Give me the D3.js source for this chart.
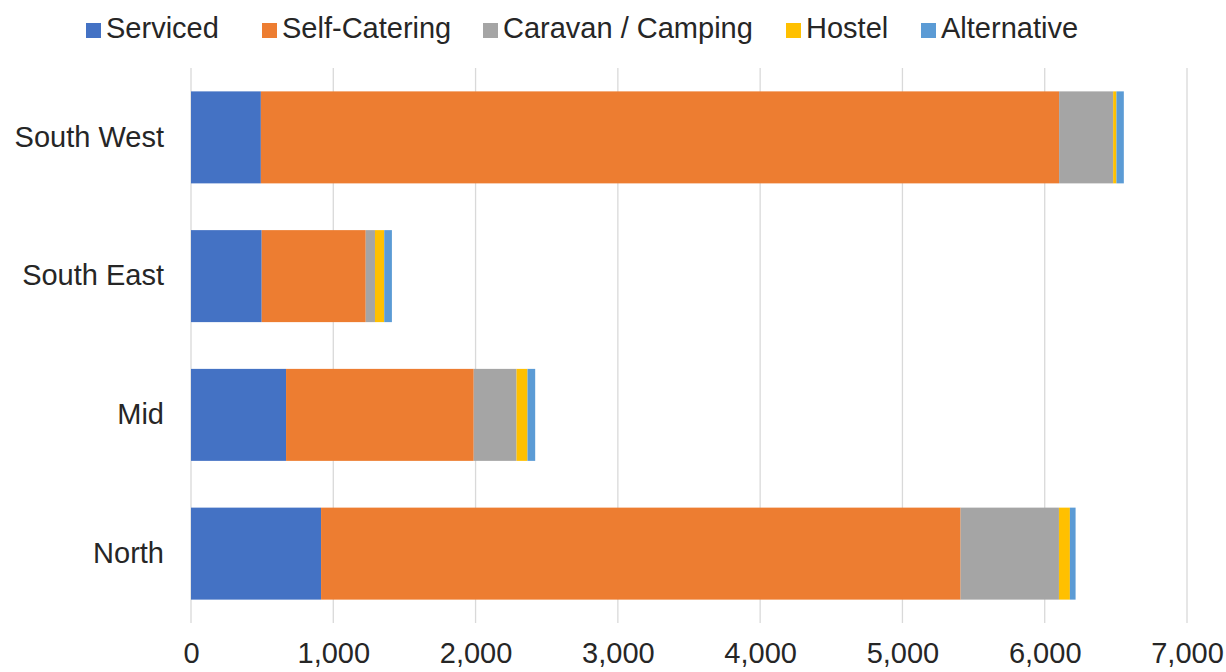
<!DOCTYPE html>
<html>
<head>
<meta charset="utf-8">
<script src="https://cdn.jsdelivr.net/npm/d3@7"></script>
<style>
  body { margin: 0; background: #fff; }
  text { font-family: "Liberation Sans", Arial, sans-serif; fill: #262626; }
</style>
</head>
<body>
<div id="chart"></div>
<script>
const regions = ["South West", "South East", "Mid", "North"];
const seriesNames = ["Serviced", "Self-Catering", "Caravan / Camping", "Hostel", "Alternative"];
const serviced = [491, 497, 668, 914];
const selfCatering = [5610, 731, 1319, 4495];
const caravan = [380, 65, 301, 691];
const hostel = [23, 65, 77, 77];
const alternative = [52, 54, 54, 40];
const xTicks = [0, 1000, 2000, 3000, 4000, 5000, 6000, 7000];
const colors = ["#4472C4", "#ED7D31", "#A5A5A5", "#FFC000", "#5B9BD5"];

const W = 1226, H = 672;
const margin = {top: 68, right: 39, bottom: 49, left: 191},
    width = W - margin.left - margin.right,
    height = H - margin.top - margin.bottom;

const rows = regions.map((r, i) => ({
  region: r,
  "Serviced": serviced[i],
  "Self-Catering": selfCatering[i],
  "Caravan / Camping": caravan[i],
  "Hostel": hostel[i],
  "Alternative": alternative[i]
}));
const stacked = d3.stack().keys(seriesNames)(rows);

const svg = d3.select("#chart")
  .append("svg")
    .attr("width", W)
    .attr("height", H)
  .append("g")
    .attr("transform", `translate(${margin.left},${margin.top})`);

const x = d3.scaleLinear()
  .domain([0, 7000])
  .range([0, width]);

const y = d3.scaleBand()
  .domain(regions)
  .range([0, height])
  .paddingInner(0.337)
  .paddingOuter(0.1685);

// gridlines
svg.append("g")
  .selectAll("line")
  .data(xTicks)
  .join("line")
    .attr("x1", d => x(d))
    .attr("x2", d => x(d))
    .attr("y1", 0)
    .attr("y2", height)
    .attr("stroke", "#d9d9d9")
    .attr("stroke-width", 1.3);

// x axis labels
const xAxis = svg.append("g")
  .attr("transform", `translate(0, ${height})`)
  .call(d3.axisBottom(x).tickValues(xTicks).tickSize(0).tickPadding(19).tickFormat(d3.format(",")));
xAxis.select(".domain").remove();
xAxis.selectAll("text")
  .style("font-size", "29px")
  .style("font-family", "'Liberation Sans', Arial, sans-serif")
  .attr("fill", "#262626");

// y axis labels
const yAxis = svg.append("g")
  .call(d3.axisLeft(y).tickSize(0).tickPadding(27));
yAxis.select(".domain").remove();
yAxis.selectAll("text")
  .style("font-size", "29px")
  .style("font-family", "'Liberation Sans', Arial, sans-serif")
  .attr("fill", "#262626");

// bars
svg.append("g")
  .selectAll("g")
  .data(stacked)
  .join("g")
    .attr("fill", (d, i) => colors[i])
  .selectAll("rect")
  .data(d => d)
  .join("rect")
    .attr("x", d => x(d[0]))
    .attr("y", d => y(d.data.region))
    .attr("width", d => x(d[1]) - x(d[0]))
    .attr("height", y.bandwidth());

// legend
const legendX = [86, 262, 483, 786, 921];
const legend = d3.select("svg").append("g")
  .selectAll("g")
  .data(seriesNames)
  .join("g")
    .attr("transform", (d, i) => `translate(${legendX[i]}, 23)`);
legend.append("rect")
  .attr("width", 15)
  .attr("height", 15)
  .attr("fill", (d, i) => colors[i]);
legend.append("text")
  .attr("x", 20)
  .attr("y", 14.5)
  .style("font-size", "29px")
  .text(d => d);
</script>
</body>
</html>
